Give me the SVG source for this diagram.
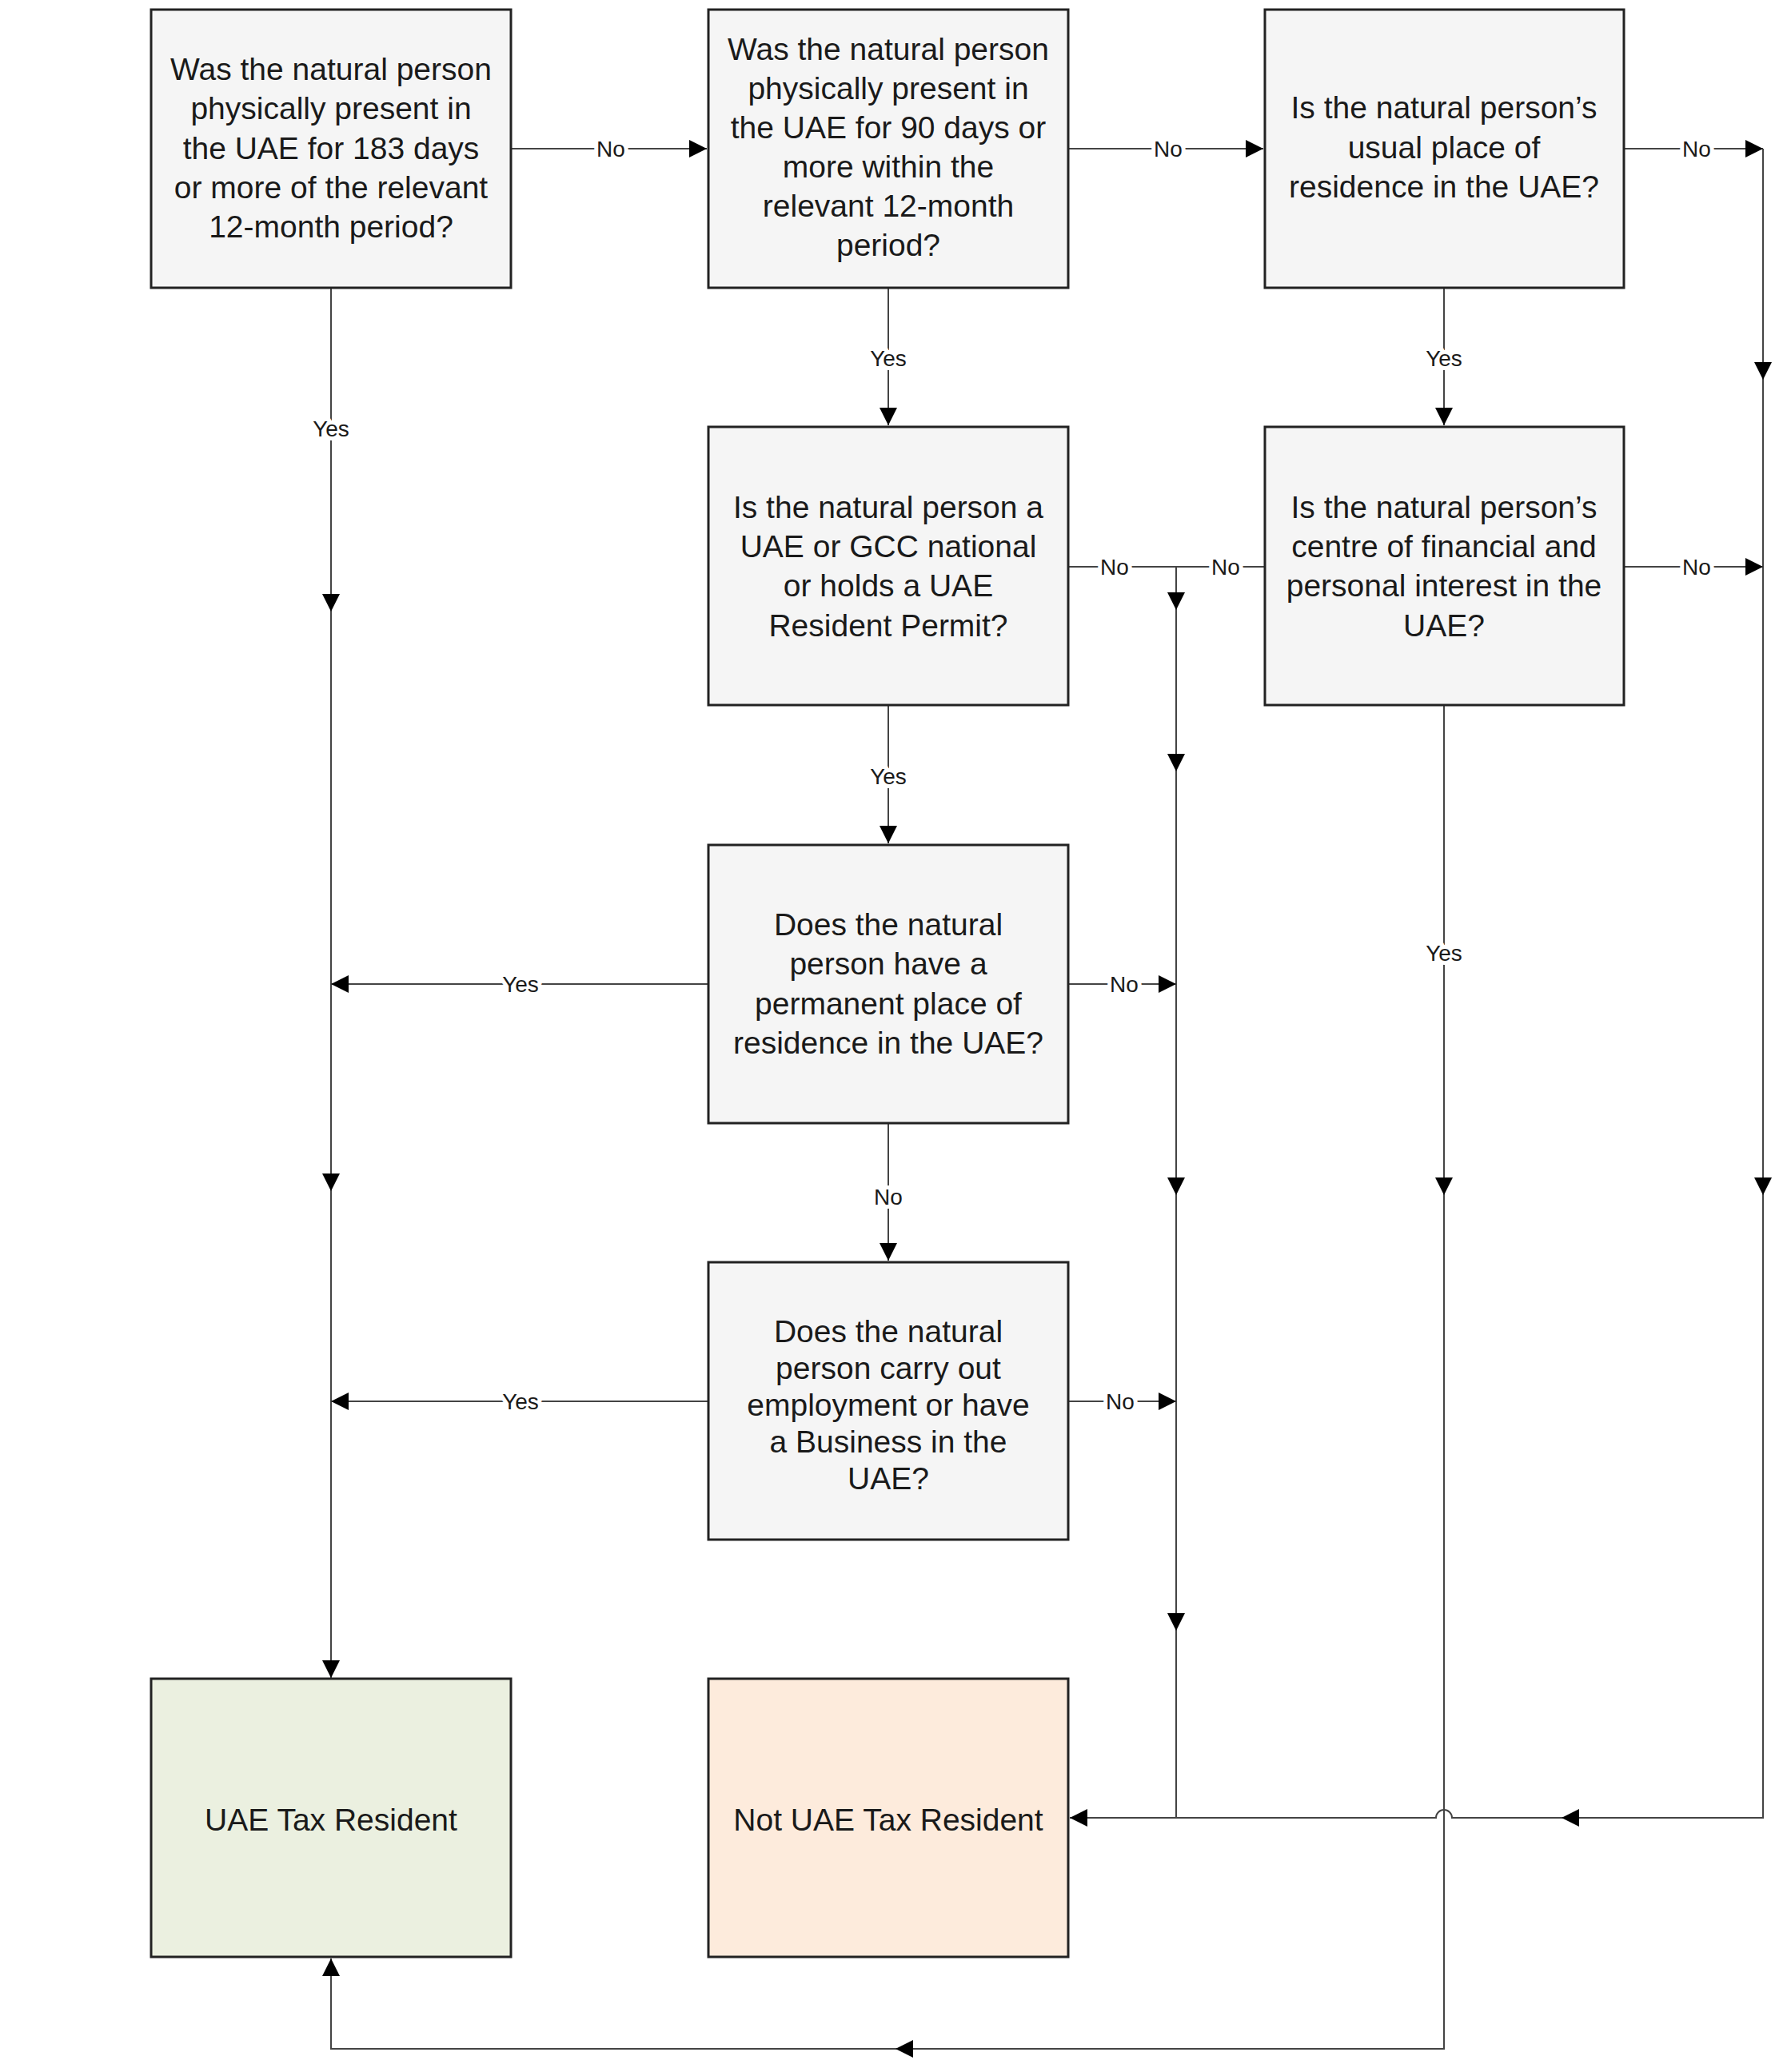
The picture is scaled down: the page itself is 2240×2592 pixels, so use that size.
<svg xmlns="http://www.w3.org/2000/svg" width="2240" height="2592" viewBox="0 0 2240 2592">
<style>
.box{fill:#f5f5f5;stroke:#222;stroke-width:3}
.res{fill:#ebf0e0;stroke:#222;stroke-width:3}
.not{fill:#fdebdc;stroke:#222;stroke-width:3}
.t{font-family:"Liberation Sans",Arial,sans-serif;font-size:39px;fill:#1a1a1a;text-anchor:middle}
.c{fill:none;stroke:#444;stroke-width:2}
.a{fill:none;stroke:#444;stroke-width:2;marker-end:url(#ah)}
.lb{font-family:"Liberation Sans",Arial,sans-serif;font-size:28px;fill:#1a1a1a;text-anchor:middle;stroke:#fff;stroke-width:10;paint-order:stroke;stroke-linejoin:round}
</style>
<defs>
<marker id="ah" markerUnits="userSpaceOnUse" markerWidth="22" markerHeight="22" refX="22" refY="11" orient="auto">
<path d="M0,0 L22,11 L0,22 z" fill="#000"/>
</marker>
</defs>
<rect width="2240" height="2592" fill="#fff"/>
<g id="connectors">
<path class="a" d="M639,186 H884"/>
<path class="a" d="M1336,186 H1580"/>
<path class="a" d="M2031,186 H2205"/>
<path class="a" d="M2205,186 V475"/>
<path class="a" d="M2205,475 V1495"/>
<path class="a" d="M2205,1495 V2274 H1953"/>
<path class="a" d="M1953,2274 H1816 A10,10 0 0 0 1796,2274 H1338"/>
<path class="a" d="M2031,709 H2205"/>
<path class="a" d="M414,360 V765"/>
<path class="a" d="M414,765 V1490"/>
<path class="a" d="M414,1490 V2099"/>
<path class="a" d="M1111,360 V532"/>
<path class="a" d="M1806,360 V532"/>
<path class="c" d="M1336,709 H1583"/>
<path class="a" d="M1471,709 V763"/>
<path class="a" d="M1471,763 V965"/>
<path class="a" d="M1471,965 V1495"/>
<path class="a" d="M1471,1495 V2040"/>
<path class="c" d="M1471,2040 V2274"/>
<path class="a" d="M1806,882 V1495"/>
<path class="a" d="M1806,1495 V2563 H1120"/>
<path class="a" d="M1120,2563 H414 V2450"/>
<path class="a" d="M1111,882 V1055"/>
<path class="a" d="M886,1231 H414"/>
<path class="a" d="M1336,1231 H1471"/>
<path class="a" d="M1111,1405 V1577"/>
<path class="a" d="M886,1753 H414"/>
<path class="a" d="M1336,1753 H1471"/>
<text class="lb" x="764" y="196">No</text>
<text class="lb" x="1461" y="196">No</text>
<text class="lb" x="2122" y="196">No</text>
<text class="lb" x="414" y="546">Yes</text>
<text class="lb" x="1111" y="458">Yes</text>
<text class="lb" x="1806" y="458">Yes</text>
<text class="lb" x="1394" y="719">No</text>
<text class="lb" x="1533" y="719">No</text>
<text class="lb" x="2122" y="719">No</text>
<text class="lb" x="1111" y="981">Yes</text>
<text class="lb" x="1806" y="1202">Yes</text>
<text class="lb" x="651" y="1241">Yes</text>
<text class="lb" x="1406" y="1241">No</text>
<text class="lb" x="1111" y="1507">No</text>
<text class="lb" x="651" y="1763">Yes</text>
<text class="lb" x="1401" y="1763">No</text>
</g>
<g id="q1">
<rect class="box" x="189" y="12" width="450" height="348"/>
<text class="t" x="414" y="100">Was the natural person</text>
<text class="t" x="414" y="149">physically present in</text>
<text class="t" x="414" y="199">the UAE for 183 days</text>
<text class="t" x="414" y="248">or more of the relevant</text>
<text class="t" x="414" y="297">12-month period?</text>
</g>
<g id="q2">
<rect class="box" x="886" y="12" width="450" height="348"/>
<text class="t" x="1111" y="75">Was the natural person</text>
<text class="t" x="1111" y="124">physically present in</text>
<text class="t" x="1111" y="173">the UAE for 90 days or</text>
<text class="t" x="1111" y="222">more within the</text>
<text class="t" x="1111" y="271">relevant 12-month</text>
<text class="t" x="1111" y="320">period?</text>
</g>
<g id="q3">
<rect class="box" x="1582" y="12" width="449" height="348"/>
<text class="t" x="1806" y="148">Is the natural person’s</text>
<text class="t" x="1806" y="198">usual place of</text>
<text class="t" x="1806" y="247">residence in the UAE?</text>
</g>
<g id="q4">
<rect class="box" x="886" y="534" width="450" height="348"/>
<text class="t" x="1111" y="648">Is the natural person a</text>
<text class="t" x="1111" y="697">UAE or GCC national</text>
<text class="t" x="1111" y="746">or holds a UAE</text>
<text class="t" x="1111" y="796">Resident Permit?</text>
</g>
<g id="q5">
<rect class="box" x="1582" y="534" width="449" height="348"/>
<text class="t" x="1806" y="648">Is the natural person’s</text>
<text class="t" x="1806" y="697">centre of financial and</text>
<text class="t" x="1806" y="746">personal interest in the</text>
<text class="t" x="1806" y="796">UAE?</text>
</g>
<g id="q6">
<rect class="box" x="886" y="1057" width="450" height="348"/>
<text class="t" x="1111" y="1170">Does the natural</text>
<text class="t" x="1111" y="1219">person have a</text>
<text class="t" x="1111" y="1269">permanent place of</text>
<text class="t" x="1111" y="1318">residence in the UAE?</text>
</g>
<g id="q7">
<rect class="box" x="886" y="1579" width="450" height="347"/>
<text class="t" x="1111" y="1679">Does the natural</text>
<text class="t" x="1111" y="1725">person carry out</text>
<text class="t" x="1111" y="1771">employment or have</text>
<text class="t" x="1111" y="1817">a Business in the</text>
<text class="t" x="1111" y="1863">UAE?</text>
</g>
<g id="resident">
<rect class="res" x="189" y="2100" width="450" height="348"/>
<text class="t" x="414" y="2290">UAE Tax Resident</text>
</g>
<g id="notresident">
<rect class="not" x="886" y="2100" width="450" height="348"/>
<text class="t" x="1111" y="2290">Not UAE Tax Resident</text>
</g>
</svg>
